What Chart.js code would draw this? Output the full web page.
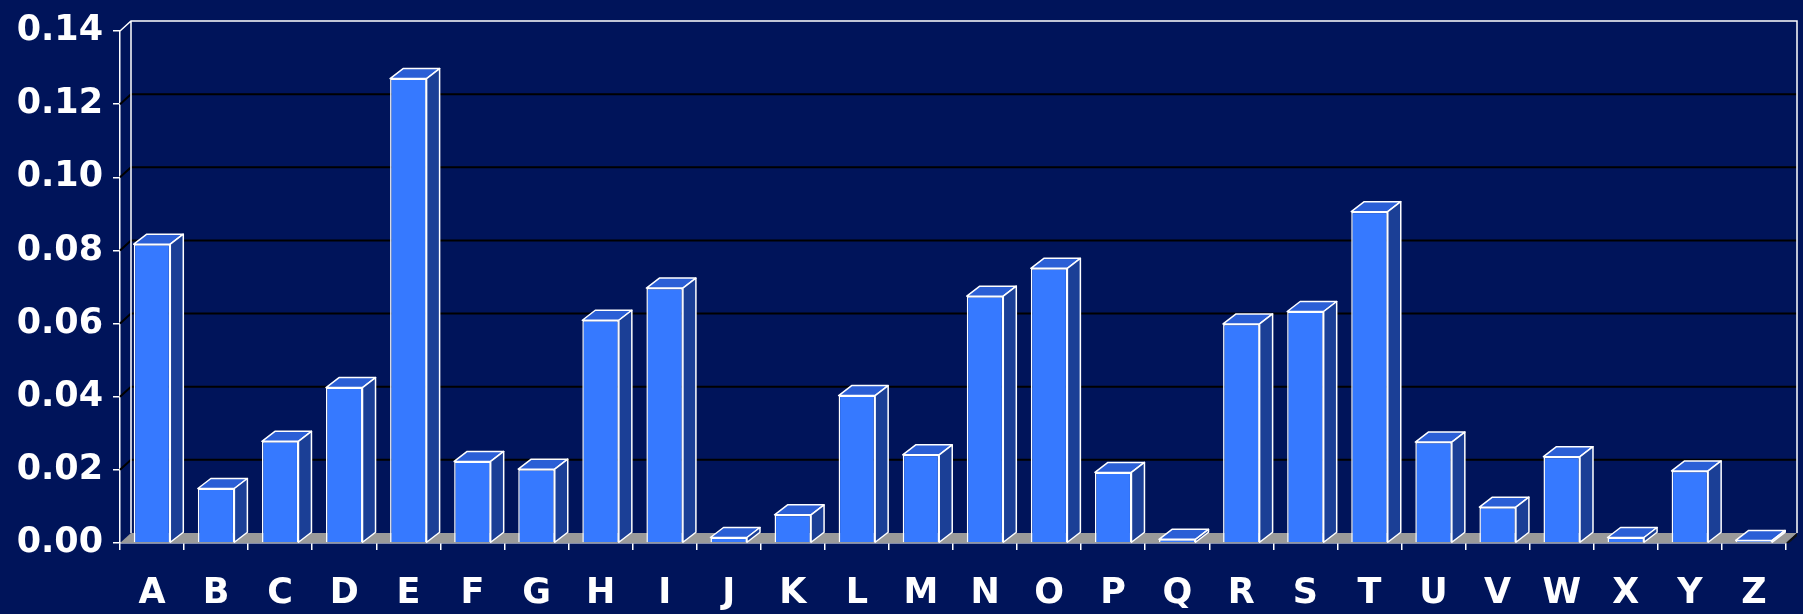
<!DOCTYPE html>
<html>
<head>
<meta charset="utf-8">
<script src="https://cdn.jsdelivr.net/npm/chart.js@4.4.0/dist/chart.umd.min.js"></script>
<style>
html, body { margin: 0; padding: 0; background: #00145a; }
#wrap { width: 1803px; height: 614px; }
</style>
</head>
<body>
<div id="wrap"><canvas id="chart"></canvas></div>
<script>
// letter frequencies
const letters = ['A','B','C','D','E','F','G','H','I','J','K','L','M','N','O','P','Q','R','S','T','U','V','W','X','Y','Z'];
const frequencies = [0.0817, 0.0149, 0.0278, 0.0425, 0.1270, 0.0223, 0.0202, 0.0609, 0.0697, 0.0015,
                     0.0077, 0.0403, 0.0241, 0.0675, 0.0751, 0.0193, 0.0010, 0.0599, 0.0633, 0.0906,
                     0.0276, 0.0098, 0.0236, 0.0015, 0.0197, 0.0007];
const yMin = 0;
const yMax = 0.14;
const yStep = 0.02;

const WALL_DX = 11, WALL_DY = 10;   // depth of back wall / floor
const BAR_DX = 13, BAR_DY = 10;     // depth of each bar
const labelFont = { family: '"Comic Sans MS", "DejaVu Sans", sans-serif', size: 35, weight: 'bold' };

// draws back wall, floor and the top/side faces of the bars
const threeD = {
    id: 'threeD',
    beforeDatasetsDraw(chart) {
        const { ctx, chartArea: a, scales: { y } } = chart;
        ctx.save();

        // floor
        ctx.fillStyle = '#9a9a9a';
        ctx.beginPath();
        ctx.moveTo(a.left, a.bottom);
        ctx.lineTo(a.right, a.bottom);
        ctx.lineTo(a.right + WALL_DX, a.bottom - WALL_DY);
        ctx.lineTo(a.left + WALL_DX, a.bottom - WALL_DY);
        ctx.closePath();
        ctx.fill();
        ctx.fillStyle = '#111111';
        ctx.beginPath();
        ctx.moveTo(a.right, a.bottom);
        ctx.lineTo(a.right + WALL_DX, a.bottom - WALL_DY);
        ctx.lineTo(a.right + WALL_DX, a.bottom - WALL_DY + 3);
        ctx.lineTo(a.right + 3, a.bottom);
        ctx.closePath();
        ctx.fill();

        // grid lines on the back wall
        y.ticks.forEach(t => {
            if (t.value <= yMin || t.value >= yMax) return;
            const py = y.getPixelForValue(t.value);
            ctx.strokeStyle = '#000000';
            ctx.lineWidth = 2;
            ctx.beginPath();
            ctx.moveTo(a.left, py);
            ctx.lineTo(a.left + WALL_DX, py - WALL_DY);
            ctx.lineTo(a.right + WALL_DX, py - WALL_DY);
            ctx.stroke();
        });

        // wall outline
        const top = y.getPixelForValue(yMax);
        ctx.strokeStyle = '#ffffff';
        ctx.lineWidth = 1.5;
        ctx.beginPath();
        ctx.moveTo(a.left, top);
        ctx.lineTo(a.left + WALL_DX, top - WALL_DY);
        ctx.lineTo(a.right + WALL_DX, top - WALL_DY);
        ctx.lineTo(a.right + WALL_DX, a.bottom - WALL_DY);
        ctx.moveTo(a.left + WALL_DX, top - WALL_DY);
        ctx.lineTo(a.left + WALL_DX, a.bottom - WALL_DY);
        ctx.stroke();
        ctx.restore();
    },
    afterDatasetsDraw(chart) {
        const { ctx } = chart;
        const meta = chart.getDatasetMeta(0);
        ctx.save();
        ctx.strokeStyle = '#ffffff';
        ctx.lineWidth = 1.5;
        ctx.lineJoin = 'round';
        meta.data.forEach(bar => {
            const { x, y, base, width } = bar.getProps(['x', 'y', 'base', 'width'], true);
            const l = x - width / 2, r = x + width / 2;
            // top face
            ctx.fillStyle = '#2b5fd6';
            ctx.beginPath();
            ctx.moveTo(l, y);
            ctx.lineTo(r, y);
            ctx.lineTo(r + BAR_DX, y - BAR_DY);
            ctx.lineTo(l + BAR_DX, y - BAR_DY);
            ctx.closePath();
            ctx.fill();
            ctx.stroke();
            // side face
            ctx.fillStyle = '#1b3f96';
            ctx.beginPath();
            ctx.moveTo(r, y);
            ctx.lineTo(r + BAR_DX, y - BAR_DY);
            ctx.lineTo(r + BAR_DX, base - BAR_DY);
            ctx.lineTo(r, base);
            ctx.closePath();
            ctx.fill();
            ctx.stroke();
        });
        ctx.restore();
    }
};

new Chart(document.getElementById('chart'), {
    type: 'bar',
    data: {
        labels: letters,
        datasets: [{
            data: frequencies,
            backgroundColor: '#3679ff',
            borderColor: '#ffffff',
            borderWidth: 1.5,
            barPercentage: 0.57,
            categoryPercentage: 1.0
        }]
    },
    options: {
        responsive: true,
        maintainAspectRatio: false,
        animation: false,
        layout: { padding: { top: 25, right: 17, left: 0, bottom: 0 } },
        plugins: {
            legend: { display: false },
            tooltip: { enabled: false }
        },
        scales: {
            x: {
                offset: true,
                grid: { display: true, drawOnChartArea: false, tickLength: 7, color: '#ffffff', lineWidth: 1.5, offset: true },
                border: { display: true, color: '#ffffff', width: 1.5 },
                ticks: { color: '#ffffff', font: labelFont, padding: 23, maxRotation: 0, autoSkip: false },
                afterFit(scale) { scale.height = 71; }
            },
            y: {
                min: yMin,
                max: yMax,
                grid: { display: true, drawOnChartArea: false, tickLength: 7, color: '#ffffff', lineWidth: 1.5 },
                border: { display: true, color: '#ffffff', width: 1.5 },
                ticks: {
                    stepSize: yStep,
                    color: '#ffffff',
                    font: labelFont,
                    padding: 10,
                    callback: value => value.toFixed(2)
                },
                afterFit(scale) { scale.width = 120; }
            }
        }
    },
    plugins: [threeD]
});
</script>
</body>
</html>
